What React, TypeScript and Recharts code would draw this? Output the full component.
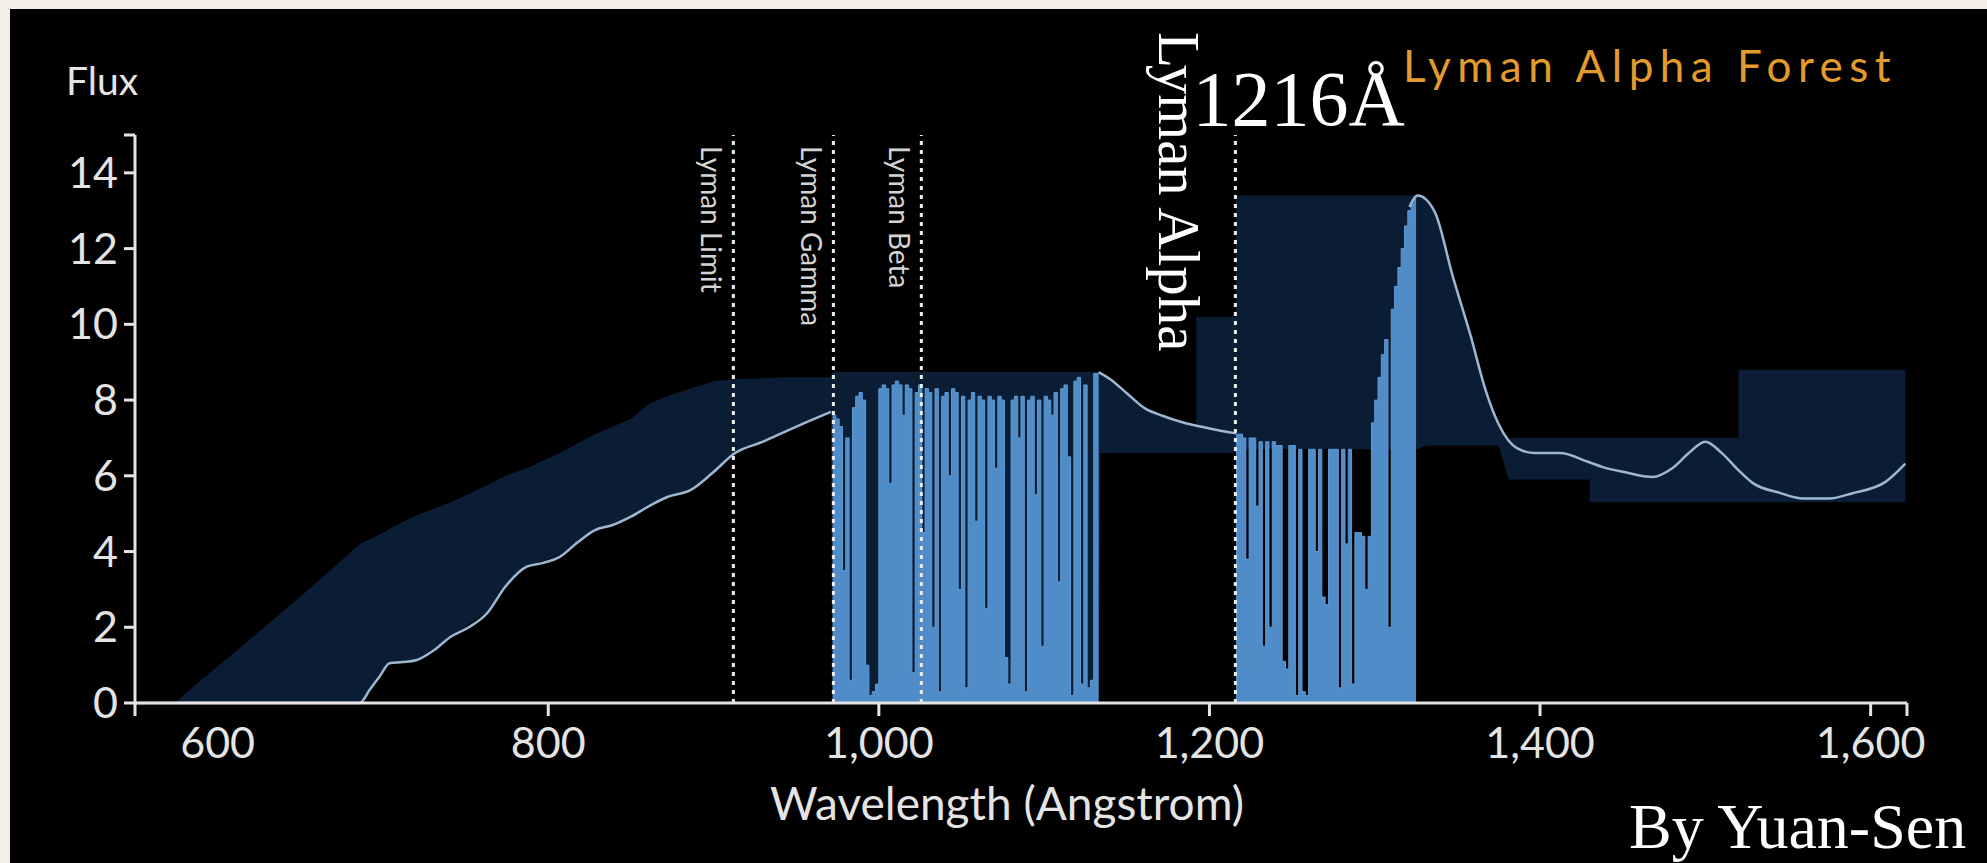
import React from 'react';
import { ComposedChart, Area, Line, XAxis, YAxis, ReferenceLine } from 'recharts';

// shaded envelope behind the spectrum (wavelength in Angstrom, flux low / high)
const bandWave = [550, 574, 590, 612, 655, 686, 698, 704, 720, 741, 763, 774, 787, 807, 828, 850, 861, 872, 886, 900, 913, 945, 971, 972, 1133, 1134, 1150, 1161, 1172, 1183, 1192, 1192, 1216, 1216, 1326, 1331, 1337, 1347, 1358, 1367, 1375, 1381, 1430, 1430, 1520, 1520, 1621];
const bandLow = [0, 0, 0, 0, 0, 0, 0.7, 1.05, 1.13, 1.75, 2.4, 3.05, 3.6, 3.9, 4.55, 4.9, 5.2, 5.45, 5.65, 6.1, 6.6, 7.2, 7.7, 0, 0, 6.6, 6.6, 6.6, 6.6, 6.6, 6.6, 6.6, 6.6, 6.7, 6.7, 6.8, 6.8, 6.8, 6.8, 6.8, 6.8, 5.9, 5.9, 5.3, 5.3, 5.3, 5.3];
const bandHigh = [0, 0, 0.6, 1.4, 3.0, 4.2, 4.45, 4.6, 4.95, 5.3, 5.75, 6.0, 6.2, 6.6, 7.1, 7.5, 7.9, 8.1, 8.3, 8.5, 8.55, 8.6, 8.6, 8.75, 8.75, 8.74, 8.2, 7.8, 7.58, 7.42, 7.3, 10.2, 10.2, 13.4, 13.4, 13.3, 12.9, 11.3, 9.7, 8.27, 7.36, 7.0, 7.0, 7.0, 7.0, 8.8, 8.8];

// continuum (null = hidden under the forests)
const lineWave = [550, 686, 692, 698, 704, 712, 720, 731, 741, 752, 763, 774, 787, 797, 807, 818, 828, 839, 850, 861, 872, 886, 900, 913, 930, 945, 958, 971, 1050, 1133, 1140, 1150, 1161, 1172, 1183, 1200, 1216, 1270, 1321, 1326, 1331, 1337, 1347, 1358, 1367, 1375, 1386, 1397, 1412, 1429, 1438, 1451, 1468, 1480, 1490, 1500, 1510, 1520, 1529, 1545, 1559, 1575, 1589, 1609, 1621];
const lineFlux = [0, 0, 0.35, 0.7, 1.05, 1.08, 1.13, 1.4, 1.75, 2.0, 2.37, 3.07, 3.6, 3.7, 3.86, 4.25, 4.56, 4.7, 4.92, 5.2, 5.44, 5.62, 6.1, 6.6, 6.9, 7.2, 7.45, 7.69, null, 8.74, 8.55, 8.18, 7.78, 7.58, 7.42, 7.25, 7.12, null, 13.1, 13.4, 13.3, 12.9, 11.3, 9.7, 8.27, 7.36, 6.73, 6.6, 6.6, 6.37, 6.23, 6.1, 5.97, 6.2, 6.6, 6.9, 6.6, 6.15, 5.8, 5.55, 5.4, 5.4, 5.54, 5.84, 6.32];

// absorption forest between Lyman Gamma and the Lyman Alpha line region
const betaForestWave = [972, 974, 976, 978, 980, 982, 984, 986, 988, 990, 992, 994, 996, 998, 1000, 1002, 1004, 1006, 1008, 1010, 1012, 1014, 1016, 1018, 1020, 1022, 1024, 1026, 1028, 1030, 1032, 1034, 1036, 1038, 1040, 1042, 1044, 1046, 1048, 1050, 1052, 1054, 1056, 1058, 1060, 1062, 1064, 1066, 1068, 1070, 1072, 1074, 1076, 1078, 1080, 1082, 1084, 1086, 1088, 1090, 1092, 1094, 1096, 1098, 1100, 1102, 1104, 1106, 1108, 1110, 1112, 1114, 1116, 1118, 1120, 1122, 1124, 1126, 1128, 1130, 1132, 1133];
const betaForestFlux = [7.6, 7.5, 7.3, 3.5, 7.0, 0.6, 7.8, 8.1, 8.2, 8.0, 1.0, 0.2, 0.3, 0.5, 8.3, 8.4, 8.3, 5.8, 8.4, 8.5, 8.4, 7.6, 8.4, 8.3, 0.8, 8.2, 8.4, 4.5, 8.3, 8.2, 2.0, 8.3, 0.3, 8.1, 8.2, 6.0, 8.3, 8.2, 3.0, 8.1, 0.4, 8.0, 8.2, 4.8, 8.1, 8.0, 2.5, 8.1, 8.0, 6.2, 8.1, 8.0, 1.2, 0.5, 8.0, 8.1, 7.0, 8.1, 0.3, 8.0, 8.1, 5.5, 8.0, 1.5, 8.1, 8.0, 7.6, 8.2, 3.2, 8.3, 8.4, 6.5, 0.2, 8.5, 8.6, 0.5, 8.4, 0.4, 0.6, 8.7, 8.7, 8.7];

// Lyman Alpha forest
const alphaForestWave = [1216, 1218, 1220, 1222, 1224, 1226, 1228, 1230, 1232, 1234, 1236, 1238, 1240, 1242, 1244, 1246, 1248, 1250, 1252, 1254, 1256, 1258, 1260, 1262, 1264, 1266, 1268, 1270, 1272, 1274, 1276, 1278, 1280, 1282, 1284, 1286, 1288, 1290, 1292, 1294, 1296, 1298, 1300, 1302, 1304, 1306, 1308, 1310, 1312, 1314, 1316, 1318, 1320, 1322, 1324, 1325];
const alphaForestFlux = [7.1, 7.1, 7.0, 3.8, 7.0, 7.0, 5.2, 6.9, 1.5, 6.9, 2.0, 6.9, 6.8, 6.8, 1.1, 0.9, 6.8, 6.8, 0.2, 6.7, 0.3, 0.2, 6.7, 6.7, 4.0, 6.7, 2.8, 2.6, 6.7, 6.7, 6.7, 0.4, 6.7, 4.2, 6.7, 0.5, 4.5, 4.5, 4.4, 3.0, 4.4, 7.4, 8.0, 8.6, 9.2, 9.6, 2.0, 10.4, 11.0, 11.5, 12.0, 12.6, 13.0, 13.2, 13.3, 13.3];

const lymanNames = ['Lyman Limit', 'Lyman Gamma', 'Lyman Beta', 'Lyman Alpha'];
const lymanWaves = [912, 972.5, 1025.7, 1215.7];

const xTicks = [550, 600, 800, 1000, 1200, 1400, 1600, 1622];
const xTickLabels = ['', '600', '800', '1,000', '1,200', '1,400', '1,600', ''];
const yTicks = [0, 2, 4, 6, 8, 10, 12, 14, 15];
const yTickLabels = ['0', '2', '4', '6', '8', '10', '12', '14', ''];

const bandData = bandWave.map((w, i) => ({ w, band: [bandLow[i], bandHigh[i]] }));
const lineData = lineWave.map((w, i) => ({ w, flux: lineFlux[i] }));
const betaData = betaForestWave.map((w, i) => ({ w, flux: betaForestFlux[i] }));
const alphaData = alphaForestWave.map((w, i) => ({ w, flux: alphaForestFlux[i] }));

const SANS = 'Lato, "Open Sans", sans-serif';
const SERIF = '"Liberation Serif", "Times New Roman", serif';
const AXIS = '#e4e4e4';

const XTick = (props: any) => {
  const { x, y, payload } = props;
  const label = xTickLabels[xTicks.indexOf(payload.value)];
  return (
    <g>
      {label !== '600' && <line x1={x} x2={x} y1={y} y2={y + 13} stroke={AXIS} strokeWidth={3} />}
      <text x={x} y={y + 55} textAnchor="middle" fontFamily={SANS} fontSize={43} fill={AXIS}>{label}</text>
    </g>
  );
};

const YTick = (props: any) => {
  const { x, y, payload } = props;
  const label = yTickLabels[yTicks.indexOf(payload.value)];
  return (
    <g>
      <line x1={x - 11} x2={x} y1={y} y2={y} stroke={AXIS} strokeWidth={3} />
      <text x={x - 17} y={y + 15} textAnchor="end" fontFamily={SANS} fontSize={43} fill={AXIS}>{label}</text>
    </g>
  );
};

const lymanLabel = (name: string) => (props: any) => {
  const { x, y } = props.viewBox;
  if (name === 'Lyman Alpha') {
    return (
      <g>
        <text transform={`translate(${x - 76},${y - 103}) rotate(90)`} fontFamily={SERIF} fontSize={59} fill="#ffffff">{name}</text>
        <text x={x - 43} y={y - 10} fontFamily={SERIF} fontSize={78} fill="#ffffff">1216Å</text>
      </g>
    );
  }
  return (
    <text transform={`translate(${x - 32},${y + 11}) rotate(90)`} fontFamily={SANS} fontSize={28} fill="#d4d4d4">{name}</text>
  );
};

export default function App() {
  return (
    <div style={{ position: 'absolute', left: 0, top: 0, width: 1987, height: 863, background: '#f2efe8', overflow: 'hidden' }}>
      <div style={{ position: 'absolute', left: 10, top: 9, right: 0, bottom: 0, background: '#000' }} />
      <div style={{ position: 'absolute', left: 0, top: 0 }}>
        <ComposedChart width={1987} height={863} margin={{ top: 135, right: 80, bottom: 100, left: 55 }}>
          <XAxis
            dataKey="w"
            type="number"
            domain={[550, 1622]}
            ticks={xTicks}
            interval={0}
            height={60}
            tickSize={0}
            tickMargin={0}
            tick={<XTick />}
            axisLine={{ stroke: AXIS, strokeWidth: 3 }}
            allowDataOverflow
          />
          <YAxis
            type="number"
            domain={[0, 15]}
            ticks={yTicks}
            interval={0}
            width={80}
            tickSize={0}
            tickMargin={0}
            tick={<YTick />}
            axisLine={{ stroke: AXIS, strokeWidth: 3 }}
          />
          <Area data={bandData} dataKey="band" type="linear" stroke="none" fill="#0a1d35" fillOpacity={1} isAnimationActive={false} />
          <Area data={betaData} dataKey="flux" type="stepAfter" stroke="#5e9ad4" strokeWidth={1} fill="#4f8cc8" fillOpacity={1} isAnimationActive={false} />
          <Area data={alphaData} dataKey="flux" type="stepAfter" stroke="#5e9ad4" strokeWidth={1} fill="#4f8cc8" fillOpacity={1} isAnimationActive={false} />
          <Line data={lineData} dataKey="flux" type="monotone" stroke="#9db7d0" strokeWidth={2.5} dot={false} isAnimationActive={false} />
          {lymanWaves.map((w, i) => (
            <ReferenceLine
              key={lymanNames[i]}
              x={w}
              stroke="#ececec"
              strokeWidth={3}
              strokeDasharray="4 5"
              label={lymanLabel(lymanNames[i])}
            />
          ))}
        </ComposedChart>
      </div>
      <svg width={1987} height={863} style={{ position: 'absolute', left: 0, top: 0, pointerEvents: 'none' }}>
        <text x={66} y={95} fontFamily={SANS} fontSize={39} fill={AXIS}>Flux</text>
        <text x={1007} y={820} textAnchor="middle" fontFamily={SANS} fontSize={46} fill={AXIS}>Wavelength (Angstrom)</text>
        <text x={1403} y={82} fontFamily={SANS} fontSize={44} letterSpacing={6.5} fill="#e39b2d">Lyman Alpha Forest</text>
        <text x={1629} y={848} fontFamily={SERIF} fontSize={64} fill="#ffffff">By Yuan-Sen</text>
      </svg>
    </div>
  );
}
